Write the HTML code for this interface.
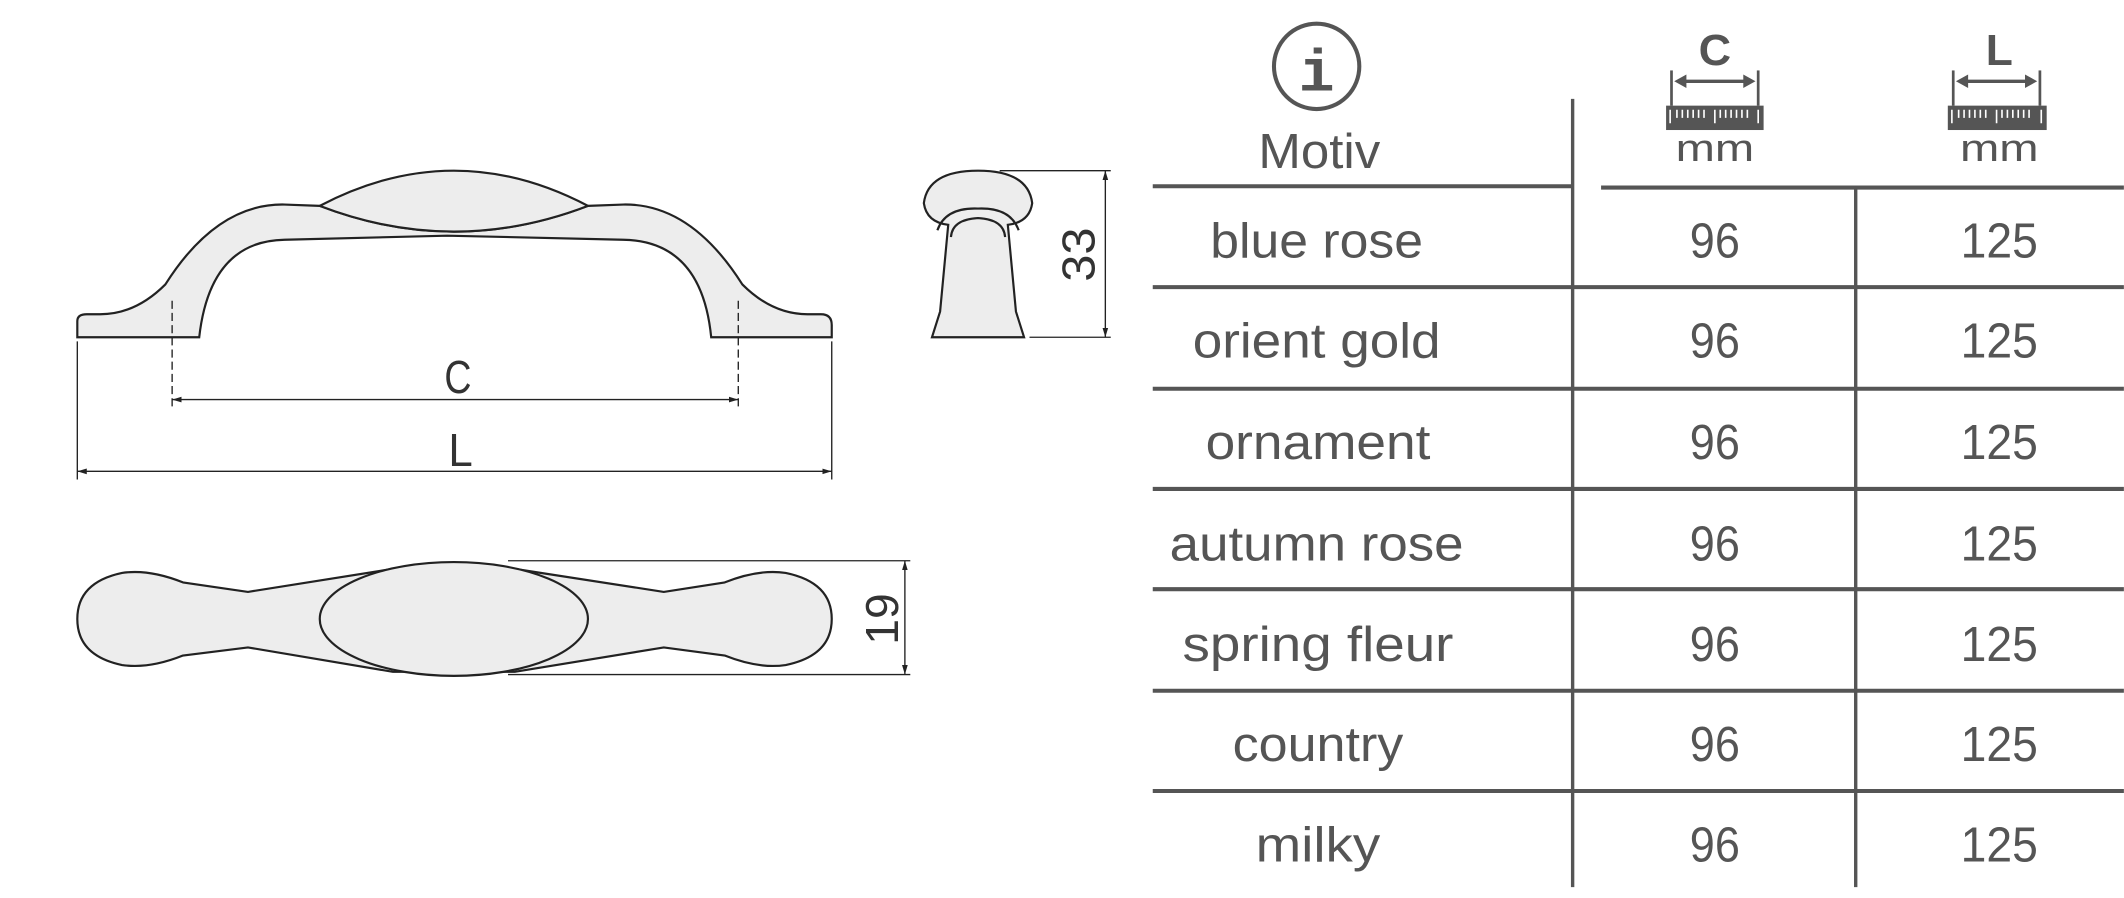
<!DOCTYPE html>
<html><head><meta charset="utf-8"><style>html,body{margin:0;padding:0;background:#fff}svg{display:block}</style></head>
<body>
<svg width="2124" height="898" viewBox="0 0 1568 663" xmlns="http://www.w3.org/2000/svg">
<defs>
<marker id="ar" viewBox="0 0 10 10" refX="10" refY="5" markerWidth="7" markerHeight="7" orient="auto-start-reverse"><path d="M0,2 L10,5 L0,8 z" fill="#222"/></marker>
</defs>
<g stroke="#222" stroke-width="1.6" fill="#ededed">
<!-- front view -->
<path d="M57,249 L57,237 Q57,232 64,232 L74,232 Q100,232 122,210 Q160,150 210,151 L236,152 Q335,190 434,152 L460,151 Q510,150 548,210 Q570,232 596,232 L606,232 Q614,232 614,240 L614,249 L525,249 Q518,178 460,177 L330,174 L210,177 Q155,178 147,249 Z"/>
<path d="M236,152 Q335,100 434,152 Q335,190 236,152 Z"/>
<!-- knob -->
<path d="M722,126 Q685,126 682,150 Q684,164 700,166 L694,230 L688,249 L756,249 L750,230 L744,166 Q760,164 762,150 Q759,126 722,126 Z"/>
<path d="M692,170 Q698,153 722,154 Q746,153 752,170" fill="none"/>
<path d="M702,175 Q703,162 722,161 Q741,162 742,175" fill="none"/>
<!-- top view -->
<path d="M90,423 Q110,420 135,430 L183,437 L290,420 L380,420 L490,437 L535,430 Q560,420 580,423 Q614,430 614,457 Q614,484 580,491 Q560,494 535,484 L490,478 L380,496 L290,496 L183,478 L135,484 Q110,494 90,491 Q57,484 57,457 Q57,430 90,423 Z"/>
<ellipse cx="335" cy="457" rx="99" ry="42"/>
</g>
<g stroke="#222" stroke-width="1" fill="none">
<line x1="127" y1="222" x2="127" y2="300" stroke-dasharray="6,3"/>
<line x1="545" y1="222" x2="545" y2="300" stroke-dasharray="6,3"/>
<line x1="127" y1="295" x2="545" y2="295" marker-start="url(#ar)" marker-end="url(#ar)"/>
<line x1="57" y1="252" x2="57" y2="354"/>
<line x1="614" y1="252" x2="614" y2="354"/>
<line x1="57" y1="348" x2="614" y2="348" marker-start="url(#ar)" marker-end="url(#ar)"/>
<line x1="738" y1="126" x2="820" y2="126"/>
<line x1="760" y1="249" x2="820" y2="249"/>
<line x1="816" y1="126" x2="816" y2="249" marker-start="url(#ar)" marker-end="url(#ar)"/>
<line x1="375" y1="414" x2="672" y2="414"/>
<line x1="375" y1="498" x2="672" y2="498"/>
<line x1="668" y1="414" x2="668" y2="498" marker-start="url(#ar)" marker-end="url(#ar)"/>
</g>
<g font-family="Liberation Sans, sans-serif" fill="#333" font-size="34">
<text x="338" y="290" text-anchor="middle" textLength="20" lengthAdjust="spacingAndGlyphs">C</text>
<text x="340" y="344" text-anchor="middle" textLength="18" lengthAdjust="spacingAndGlyphs">L</text>
<text transform="translate(808,188) rotate(-90)" text-anchor="middle" textLength="40" lengthAdjust="spacingAndGlyphs">33</text>
<text transform="translate(663,457) rotate(-90)" text-anchor="middle" textLength="38" lengthAdjust="spacingAndGlyphs">19</text>
</g>
<!-- table -->
<g stroke="#555" fill="none">
<line x1="851" y1="137.5" x2="1162" y2="137.5" stroke-width="3"/>
<line x1="1182" y1="138.5" x2="1568" y2="138.5" stroke-width="3"/>
<line x1="1161" y1="73" x2="1161" y2="655" stroke-width="2.5"/>
<line x1="1370" y1="139" x2="1370" y2="655" stroke-width="2.5"/>
<line x1="851" y1="212" x2="1568" y2="212" stroke-width="3"/>
<line x1="851" y1="287" x2="1568" y2="287" stroke-width="3"/>
<line x1="851" y1="361" x2="1568" y2="361" stroke-width="3"/>
<line x1="851" y1="435" x2="1568" y2="435" stroke-width="3"/>
<line x1="851" y1="510" x2="1568" y2="510" stroke-width="3"/>
<line x1="851" y1="584" x2="1568" y2="584" stroke-width="3"/>
<circle cx="972" cy="49" r="31.5" stroke-width="3"/>
<!-- C header -->
<line x1="1234" y1="52" x2="1234" y2="78" stroke-width="2"/>
<line x1="1298" y1="52" x2="1298" y2="78" stroke-width="2"/>
<line x1="1240" y1="60" x2="1292" y2="60" stroke-width="2.5"/>
<path d="M1236,60 l9,-5 v10 z M1296,60 l-9,-5 v10 z" fill="#555" stroke="none"/>
<line x1="1442" y1="52" x2="1442" y2="78" stroke-width="2"/>
<line x1="1506" y1="52" x2="1506" y2="78" stroke-width="2"/>
<line x1="1448" y1="60" x2="1500" y2="60" stroke-width="2.5"/>
<path d="M1444,60 l9,-5 v10 z M1504,60 l-9,-5 v10 z" fill="#555" stroke="none"/>
</g>
<g fill="#555">
<rect x="1230" y="78" width="72" height="18"/>
<rect x="1438" y="78" width="73" height="18"/>
</g>
<g stroke="#fff" stroke-width="1.2">
<path d="M1233,81v10 M1238,81v6 M1242,81v6 M1246,81v6 M1250,81v6 M1254,81v6 M1258,81v6 M1266,81v10 M1270,81v6 M1274,81v6 M1278,81v6 M1282,81v6 M1286,81v6 M1290,81v6 M1298,81v10"/>
<path d="M1441,81v10 M1446,81v6 M1450,81v6 M1454,81v6 M1458,81v6 M1462,81v6 M1466,81v6 M1474,81v10 M1478,81v6 M1482,81v6 M1486,81v6 M1490,81v6 M1494,81v6 M1498,81v6 M1507,81v10"/>
</g>
<g font-family="Liberation Sans, sans-serif" fill="#555" text-anchor="middle">
<text x="972" y="67" font-size="44" font-weight="bold" font-family="Liberation Mono, monospace">i</text>
<text x="1266" y="48" font-size="32" font-weight="bold" textLength="24" lengthAdjust="spacingAndGlyphs">C</text>
<text x="1476" y="48" font-size="32" font-weight="bold" textLength="20" lengthAdjust="spacingAndGlyphs">L</text>
<text x="1266" y="119" font-size="28" textLength="58" lengthAdjust="spacingAndGlyphs">mm</text>
<text x="1476" y="119" font-size="28" textLength="58" lengthAdjust="spacingAndGlyphs">mm</text>
<text x="974" y="124" font-size="36" textLength="90" lengthAdjust="spacingAndGlyphs">Motiv</text>
</g>
<g font-family="Liberation Sans, sans-serif" fill="#555" font-size="36" text-anchor="middle">
<text x="972" y="190" textLength="157" lengthAdjust="spacingAndGlyphs">blue rose</text>
<text x="972" y="264" textLength="183" lengthAdjust="spacingAndGlyphs">orient gold</text>
<text x="973" y="339" textLength="166" lengthAdjust="spacingAndGlyphs">ornament</text>
<text x="972" y="414" textLength="217" lengthAdjust="spacingAndGlyphs">autumn rose</text>
<text x="973" y="488" textLength="200" lengthAdjust="spacingAndGlyphs">spring fleur</text>
<text x="973" y="562" textLength="126" lengthAdjust="spacingAndGlyphs">country</text>
<text x="973" y="636" textLength="92" lengthAdjust="spacingAndGlyphs">milky</text>
<g>
<text x="1266" y="190" textLength="37" lengthAdjust="spacingAndGlyphs">96</text>
<text x="1266" y="264" textLength="37" lengthAdjust="spacingAndGlyphs">96</text>
<text x="1266" y="339" textLength="37" lengthAdjust="spacingAndGlyphs">96</text>
<text x="1266" y="414" textLength="37" lengthAdjust="spacingAndGlyphs">96</text>
<text x="1266" y="488" textLength="37" lengthAdjust="spacingAndGlyphs">96</text>
<text x="1266" y="562" textLength="37" lengthAdjust="spacingAndGlyphs">96</text>
<text x="1266" y="636" textLength="37" lengthAdjust="spacingAndGlyphs">96</text>
<text x="1476" y="190" textLength="57" lengthAdjust="spacingAndGlyphs">125</text>
<text x="1476" y="264" textLength="57" lengthAdjust="spacingAndGlyphs">125</text>
<text x="1476" y="339" textLength="57" lengthAdjust="spacingAndGlyphs">125</text>
<text x="1476" y="414" textLength="57" lengthAdjust="spacingAndGlyphs">125</text>
<text x="1476" y="488" textLength="57" lengthAdjust="spacingAndGlyphs">125</text>
<text x="1476" y="562" textLength="57" lengthAdjust="spacingAndGlyphs">125</text>
<text x="1476" y="636" textLength="57" lengthAdjust="spacingAndGlyphs">125</text>
</g>
</g>
</svg>
</body></html>
